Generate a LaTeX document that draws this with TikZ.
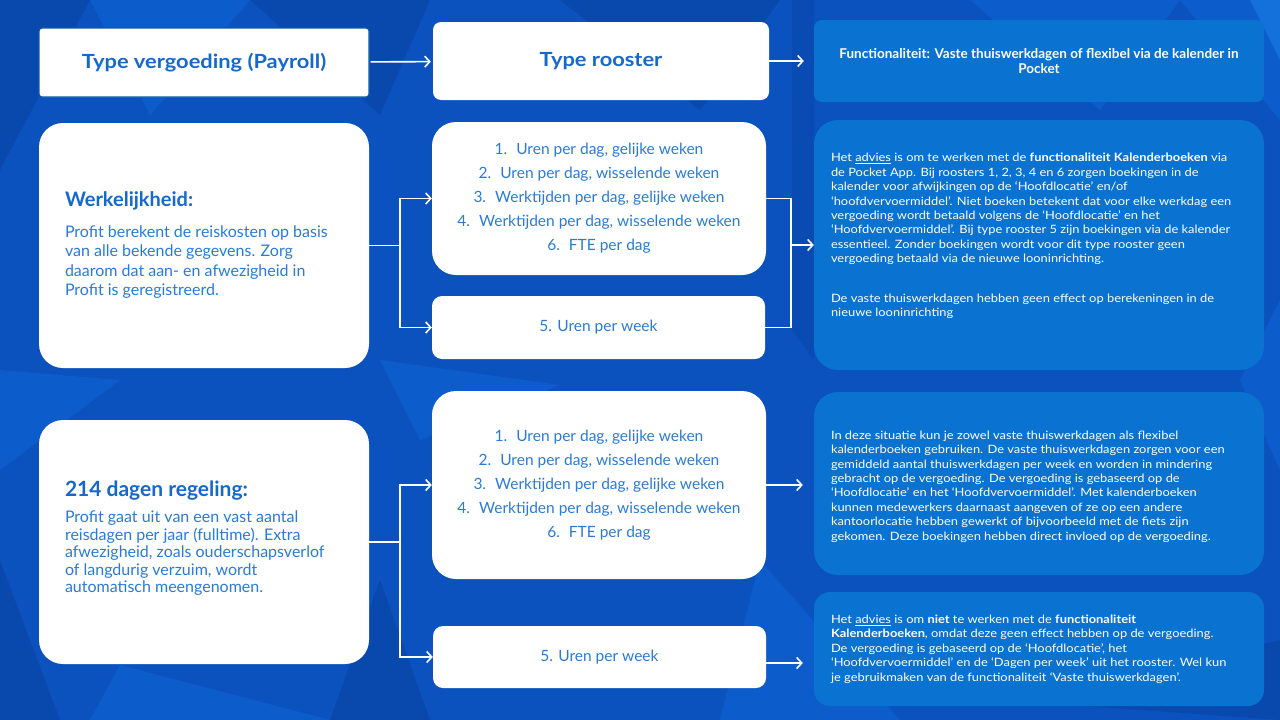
\documentclass[tikz,border=0pt]{standalone}
\usepackage{fontspec}
\setmainfont{Lato}
\newfontfamily\widefont[FakeStretch=1.12]{Lato}
\usepackage{xcolor}
\usepackage{tikz}
\usetikzlibrary{arrows.meta,positioning}

\definecolor{bgblue}{HTML}{0B52BF}
\definecolor{bgdark}{HTML}{0949AE}
\definecolor{bgdeep}{HTML}{094AB3}
\definecolor{bglight}{HTML}{0C5DCB}
\definecolor{bgbright}{HTML}{1470DA}
\definecolor{panelblue}{HTML}{0A72D0}
\definecolor{titleblue}{HTML}{1668CC}
\definecolor{listblue}{HTML}{2A7BD6}
\definecolor{edgeblue}{HTML}{0D5AA6}

\tikzset{
  whitebox/.style={fill=white, rounded corners=24pt, inner sep=0pt},
  bluebox/.style={fill=panelblue, rounded corners=24pt, inner sep=0pt},
  headtext/.style={font=\widefont\bfseries\fontsize{19.5}{23}\selectfont, text=titleblue},
  listtext/.style={font=\fontsize{15.5}{24}\selectfont, text=listblue, align=center},
  sidetext/.style={text=listblue, align=left, inner sep=0pt, anchor=west},
  paneltext/.style={font=\widefont\fontsize{11.5}{14.4}\selectfont, text=white, align=left, inner sep=0pt, anchor=west},
  link/.style={draw=white, line width=1.6pt},
  arrowlink/.style={link, -{Straight Barb[length=5pt,width=11pt]}},
}

\begin{document}
\begin{tikzpicture}[x=1pt,y=-1pt]
% background facets
\fill[bgblue] (0,0) rectangle (1280,720);
\fill[bgdark] (0,0) -- (90,0) -- (0,170) -- cycle;
\fill[bglight] (90,0) -- (250,0) -- (150,115) -- cycle;
\fill[bgdark] (250,0) -- (430,0) -- (380,115) -- cycle;
\fill[bgdark] (560,0) -- (780,0) -- (700,110) -- cycle;
\fill[bgdeep] (792,0) -- (814,0) -- (814,360) -- (792,330) -- cycle;
\fill[bglight] (970,0) -- (1180,0) -- (1100,110) -- cycle;
\fill[bglight] (1180,0) -- (1280,0) -- (1280,120) -- cycle;
\fill[bgbright] (1250,0) -- (1280,0) -- (1280,60) -- cycle;
\fill[bglight] (0,370) -- (120,380) -- (0,470) -- cycle;
\fill[bglight] (380,360) -- (560,385) -- (420,440) -- cycle;
\fill[bgdark] (0,560) -- (60,720) -- (0,720) -- cycle;
\fill[bglight] (120,665) -- (330,720) -- (90,720) -- cycle;
\fill[bgdark] (380,580) -- (430,720) -- (330,720) -- cycle;
\fill[bglight] (760,560) -- (900,720) -- (720,720) -- cycle;
\fill[bgdark] (1000,700) -- (1280,640) -- (1280,720) -- cycle;
\fill[bglight] (1240,380) -- (1280,300) -- (1280,470) -- cycle;

% top row
\node[whitebox, rounded corners=3pt, draw=edgeblue, line width=1.2pt,
      minimum width=330, minimum height=69, headtext] (payroll) at (204,62.5)
      {Type vergoeding (Payroll)};
\node[whitebox, rounded corners=8pt, minimum width=336, minimum height=78,
      headtext] (rooster) at (601,61) {Type rooster};
\node[bluebox, rounded corners=8pt, minimum width=450, minimum height=82,
      text=white, align=center, font=\bfseries\fontsize{13.5}{15}\selectfont]
      (functie) at (1039,61)
      {Functionaliteit: Vaste thuiswerkdagen of flexibel via de kalender in\\Pocket};

% werkelijkheid
\node[whitebox, minimum width=330, minimum height=245] (werkelijk) at (204,245.5) {};
\node[sidetext, font=\fontsize{16}{19.5}\selectfont] (werkelijkText)
      at ([xshift=26pt]werkelijk.west)
      {{\bfseries\fontsize{20}{24}\selectfont\color{titleblue}Werkelijkheid:}\\[11pt]
       Profit berekent de reiskosten op basis\\
       van alle bekende gegevens. Zorg\\
       daarom dat aan- en afwezigheid in\\
       Profit is geregistreerd.};
\node[whitebox, minimum width=334, minimum height=153, listtext] (dagA) at (599,198.5)
      {1.\hspace{9pt}Uren per dag, gelijke weken\\
       2.\hspace{9pt}Uren per dag, wisselende weken\\
       3.\hspace{9pt}Werktijden per dag, gelijke weken\\
       4.\hspace{9pt}Werktijden per dag, wisselende weken\\
       6.\hspace{9pt}FTE per dag};
\node[whitebox, rounded corners=10pt, minimum width=333, minimum height=63, listtext]
      (weekA) at (598.5,327.5) {5. Uren per week};
\node[bluebox, minimum width=450, minimum height=250] (advies) at (1039,245) {};
\node[paneltext] (adviesText) at ([xshift=17pt,yshift=9pt]advies.west)
      {Het \underline{advies} is om te werken met de \textbf{functionaliteit Kalenderboeken} via\\
       de Pocket App. Bij roosters 1, 2, 3, 4 en 6 zorgen boekingen in de\\
       kalender voor afwijkingen op de ‘Hoofdlocatie’ en/of\\
       ‘hoofdvervoermiddel’. Niet boeken betekent dat voor elke werkdag een\\
       vergoeding wordt betaald volgens de ‘Hoofdlocatie’ en het\\
       ‘Hoofdvervoermiddel’. Bij type rooster 5 zijn boekingen via de kalender\\
       essentieel. Zonder boekingen wordt voor dit type rooster geen\\
       vergoeding betaald via de nieuwe looninrichting.\\[25pt]
       De vaste thuiswerkdagen hebben geen effect op berekeningen in de\\
       nieuwe looninrichting};

% 214 dagen regeling
\node[whitebox, minimum width=330, minimum height=244] (regeling) at (204,542) {};
\node[sidetext, font=\fontsize{16}{17.5}\selectfont] (regelingText)
      at ([xshift=26pt,yshift=4pt]regeling.west)
      {{\bfseries\fontsize{21}{24}\selectfont\color{titleblue}214 dagen regeling:}\\[9pt]
       Profit gaat uit van een vast aantal\\
       reisdagen per jaar (fulltime). Extra\\
       afwezigheid, zoals ouderschapsverlof\\
       of langdurig verzuim, wordt\\
       automatisch meengenomen.};
\node[whitebox, minimum width=334, minimum height=188, listtext] (dagB) at (599,485)
      {1.\hspace{9pt}Uren per dag, gelijke weken\\
       2.\hspace{9pt}Uren per dag, wisselende weken\\
       3.\hspace{9pt}Werktijden per dag, gelijke weken\\
       4.\hspace{9pt}Werktijden per dag, wisselende weken\\
       6.\hspace{9pt}FTE per dag};
\node[whitebox, rounded corners=10pt, minimum width=333, minimum height=62, listtext]
      (weekB) at (599.5,657) {5. Uren per week};
\node[bluebox, minimum width=450, minimum height=183] (flexibel) at (1039,483.5) {};
\node[paneltext] (flexibelText) at ([xshift=17pt,yshift=-3pt]flexibel.west)
      {In deze situatie kun je zowel vaste thuiswerkdagen als flexibel\\
       kalenderboeken gebruiken. De vaste thuiswerkdagen zorgen voor een\\
       gemiddeld aantal thuiswerkdagen per week en worden in mindering\\
       gebracht op de vergoeding. De vergoeding is gebaseerd op de\\
       ‘Hoofdlocatie’ en het ‘Hoofdvervoermiddel’. Met kalenderboeken\\
       kunnen medewerkers daarnaast aangeven of ze op een andere\\
       kantoorlocatie hebben gewerkt of bijvoorbeeld met de fiets zijn\\
       gekomen. Deze boekingen hebben direct invloed op de vergoeding.};
\node[bluebox, rounded corners=16pt, minimum width=450, minimum height=114] (vast) at (1039,649) {};
\node[paneltext] (vastText) at ([xshift=17pt]vast.west)
      {Het \underline{advies} is om \textbf{niet} te werken met de \textbf{functionaliteit}\\
       \textbf{Kalenderboeken}, omdat deze geen effect hebben op de vergoeding.\\
       De vergoeding is gebaseerd op de ‘Hoofdlocatie’, het\\
       ‘Hoofdvervoermiddel’ en de ‘Dagen per week’ uit het rooster. Wel kun\\
       je gebruikmaken van de functionaliteit ‘Vaste thuiswerkdagen’.};

% connectors
\coordinate (splitA) at (400,245.5);
\coordinate (joinA) at (791,245);
\coordinate (splitB) at (400,542);

\draw[arrowlink, shorten <=1pt, shorten >=2pt] (payroll) -- (rooster);
\draw[arrowlink, shorten >=10pt] (rooster) -- (functie);

\draw[link] (werkelijk.east) -- (splitA);
\draw[arrowlink] (splitA) |- (dagA.west);
\draw[arrowlink] (splitA) |- (weekA.west);
\draw[link] (dagA.east) -| (joinA);
\draw[link] (weekA.east) -| (joinA);
\draw[arrowlink] (joinA) -- (advies.west |- joinA);

\draw[link] (regeling.east) -- (splitB);
\draw[arrowlink] (splitB) |- (dagB.west);
\draw[arrowlink] (splitB) |- (weekB.west);
\draw[arrowlink, shorten >=11pt] (dagB.east) -- (dagB.east -| flexibel.west);
\draw[arrowlink, shorten >=11pt] ([yshift=-6pt]weekB.east) -- ([yshift=-6pt]weekB.east -| vast.west);
\end{tikzpicture}
\end{document}
